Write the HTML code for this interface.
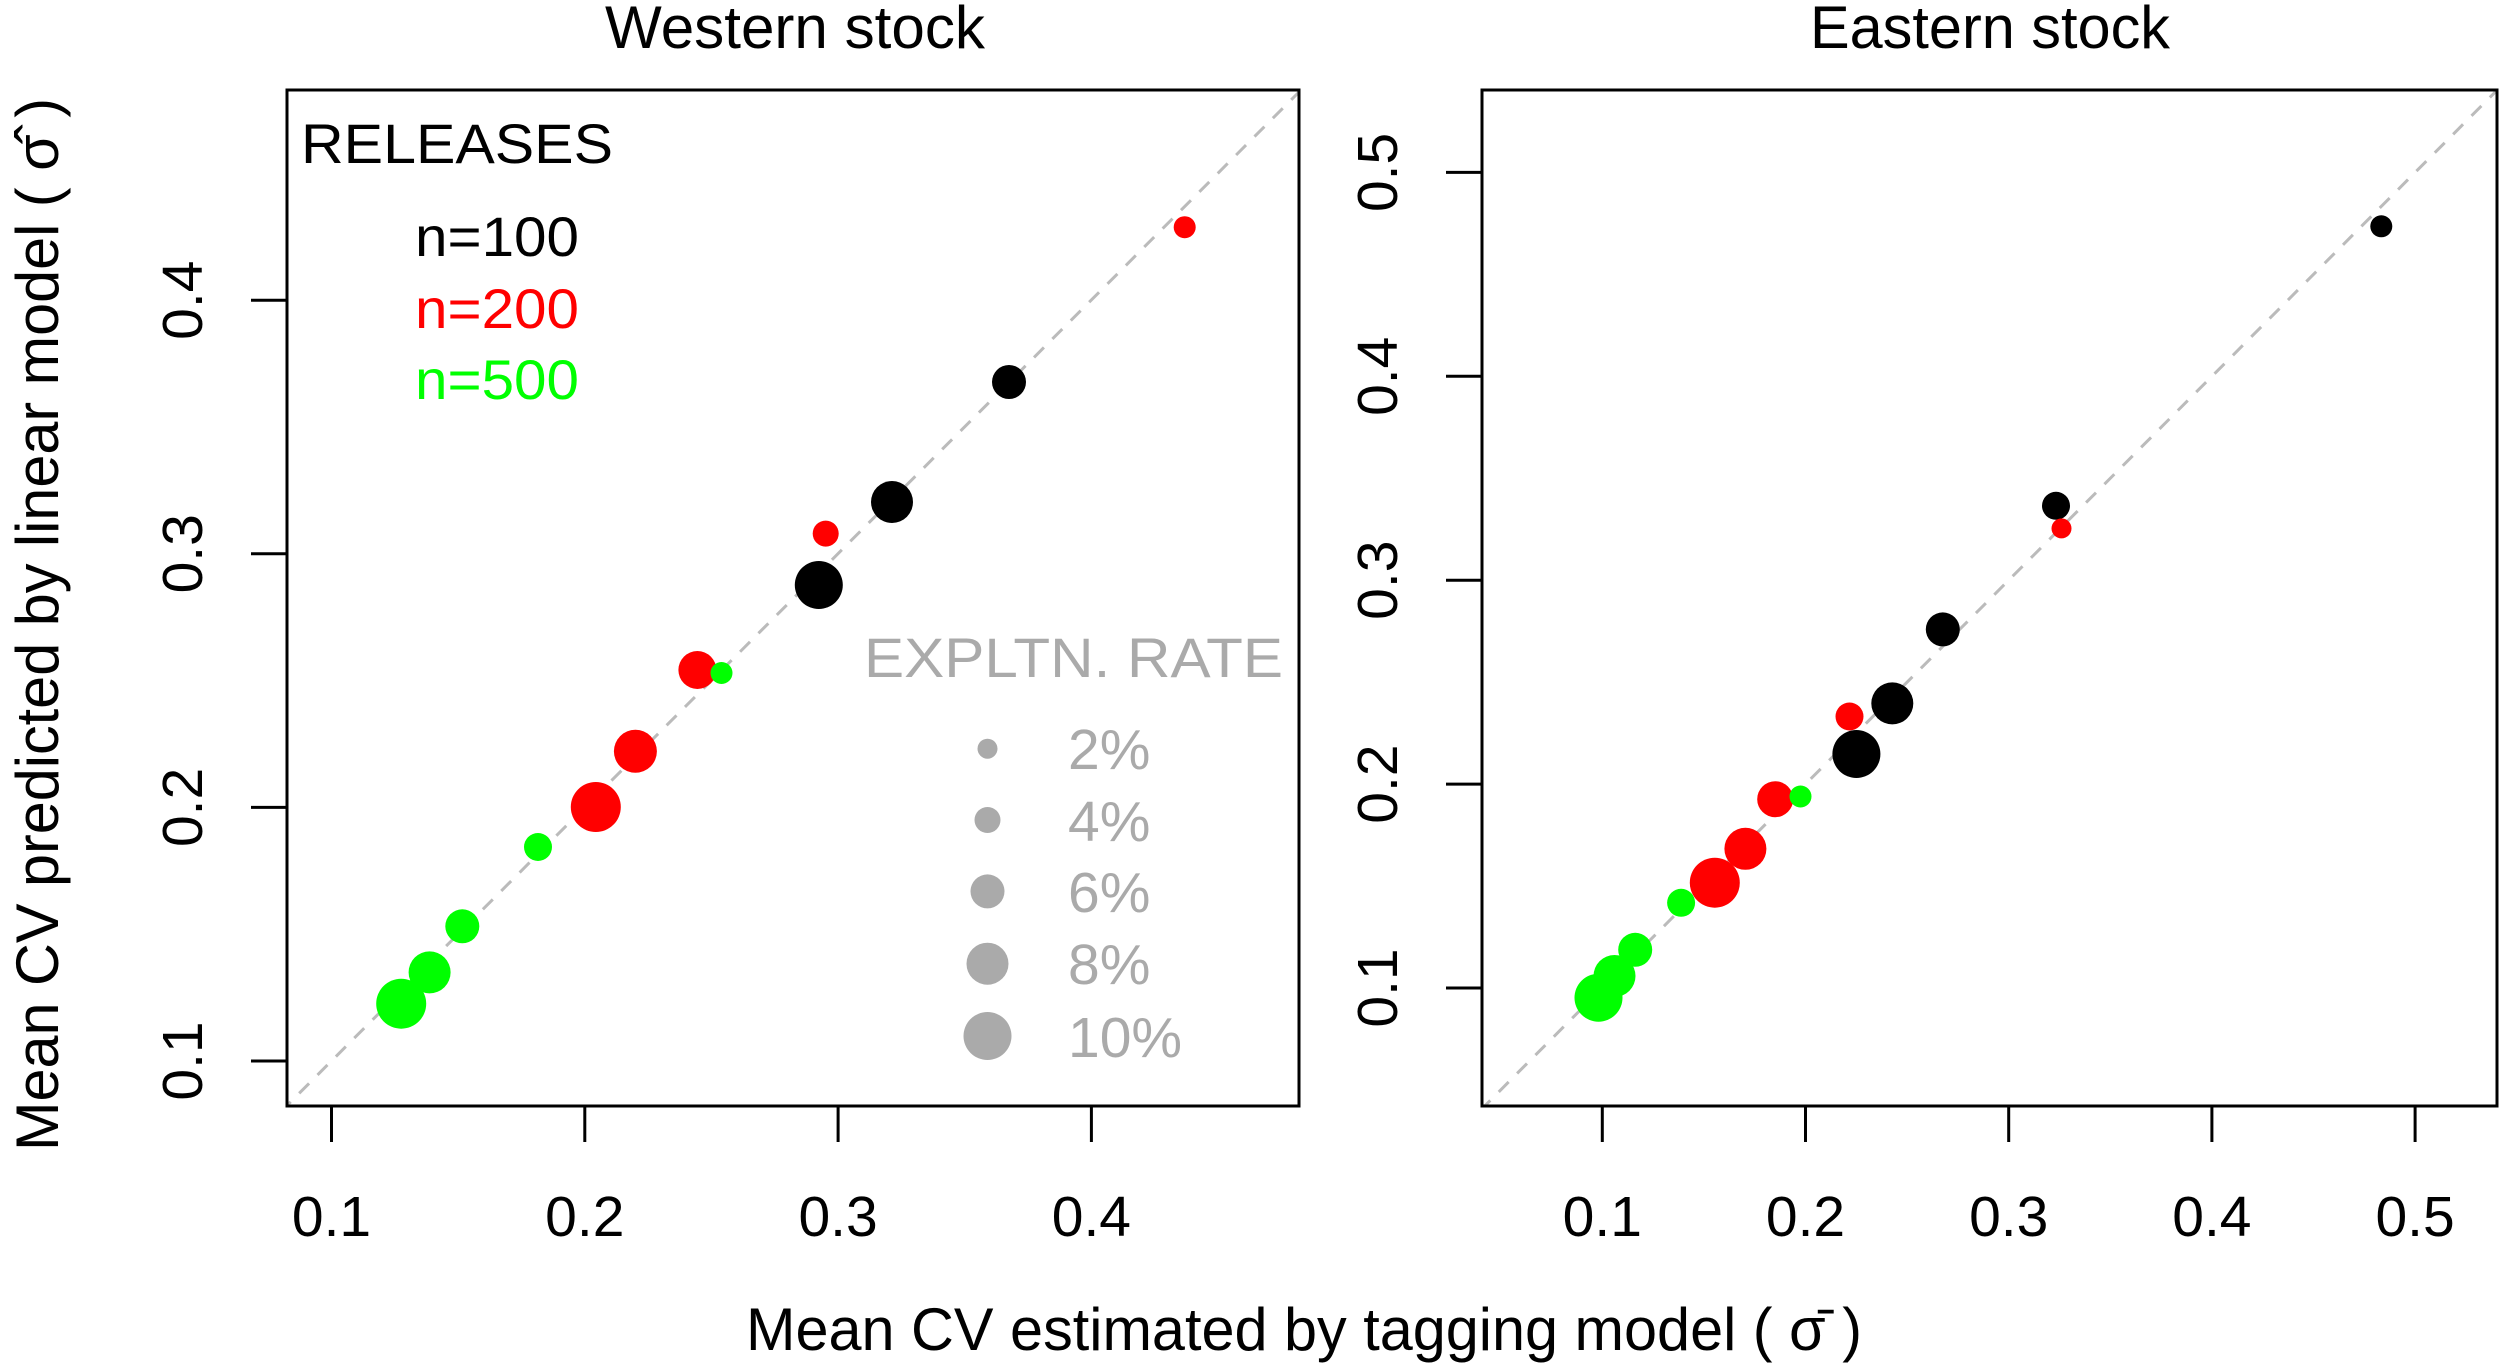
<!DOCTYPE html>
<html><head><meta charset="utf-8"><style>html,body{margin:0;padding:0;background:#fff}svg{display:block}</style></head>
<body>
<svg width="2500" height="1365" viewBox="0 0 2500 1365" xmlns="http://www.w3.org/2000/svg" font-family="Liberation Sans, Arial, sans-serif">
<defs>
<clipPath id="cl"><rect x="287" y="90" width="1012" height="1016"/></clipPath>
<clipPath id="cr"><rect x="1482" y="90" width="1015" height="1016"/></clipPath>
</defs>
<rect width="2500" height="1365" fill="#fff"/>
<!-- titles -->
<text x="795" y="48" font-size="60" text-anchor="middle" textLength="380" lengthAdjust="spacingAndGlyphs">Western stock</text>
<text x="1990" y="48" font-size="60" text-anchor="middle" textLength="360" lengthAdjust="spacingAndGlyphs">Eastern stock</text>
<text x="1304" y="1350" font-size="60" text-anchor="middle" textLength="1116" lengthAdjust="spacingAndGlyphs">Mean CV estimated by tagging model ( σ̄ )</text>
<text transform="translate(58,624.5) rotate(-90)" font-size="60" text-anchor="middle" textLength="1053" lengthAdjust="spacingAndGlyphs">Mean CV predicted by linear model ( σ̂ )</text>

<!-- left panel -->
<line x1="280.8" y1="1111.7" x2="1319" y2="72" stroke="#bbb" stroke-width="3" stroke-dasharray="14,12" clip-path="url(#cl)"/>
<g clip-path="url(#cl)">
<circle cx="1184.7" cy="227.2" r="11" fill="#f00"/>
<circle cx="1009" cy="382" r="17" fill="#000"/>
<circle cx="892" cy="502" r="21" fill="#000"/>
<circle cx="825.7" cy="533.6" r="13" fill="#f00"/>
<circle cx="818.8" cy="585" r="24" fill="#000"/>
<circle cx="697.4" cy="670" r="19" fill="#f00"/>
<circle cx="721.5" cy="673" r="11" fill="#0f0"/>
<circle cx="635.4" cy="751.3" r="21.5" fill="#f00"/>
<circle cx="595.8" cy="807" r="25" fill="#f00"/>
<circle cx="538" cy="847" r="14" fill="#0f0"/>
<circle cx="462.3" cy="926.3" r="17" fill="#0f0"/>
<circle cx="429.6" cy="972.4" r="21" fill="#0f0"/>
<circle cx="401.2" cy="1003.7" r="25" fill="#0f0"/>
</g>
<rect x="287" y="90" width="1012" height="1016" fill="none" stroke="#000" stroke-width="3"/>
<g stroke="#000" stroke-width="3">
<line x1="331.5" y1="1106" x2="331.5" y2="1142"/><line x1="584.8" y1="1106" x2="584.8" y2="1142"/><line x1="838.1" y1="1106" x2="838.1" y2="1142"/><line x1="1091.4" y1="1106" x2="1091.4" y2="1142"/>
<line x1="287" y1="1061" x2="251" y2="1061"/><line x1="287" y1="807.4" x2="251" y2="807.4"/><line x1="287" y1="553.8" x2="251" y2="553.8"/><line x1="287" y1="300.2" x2="251" y2="300.2"/>
</g>
<g font-size="57" text-anchor="middle">
<text x="331.5" y="1236">0.1</text><text x="584.8" y="1236">0.2</text><text x="838.1" y="1236">0.3</text><text x="1091.4" y="1236">0.4</text>
<text transform="translate(202,1061) rotate(-90)">0.1</text><text transform="translate(202,807.4) rotate(-90)">0.2</text><text transform="translate(202,553.8) rotate(-90)">0.3</text><text transform="translate(202,300.2) rotate(-90)">0.4</text>
</g>
<!-- legend -->
<text x="301" y="163" font-size="56" textLength="312" lengthAdjust="spacingAndGlyphs">RELEASES</text>
<text x="415" y="256" font-size="56" textLength="164" lengthAdjust="spacingAndGlyphs">n=100</text>
<text x="415" y="328" font-size="56" fill="#f00" textLength="164" lengthAdjust="spacingAndGlyphs">n=200</text>
<text x="415" y="399" font-size="56" fill="#0f0" textLength="164" lengthAdjust="spacingAndGlyphs">n=500</text>
<text x="864" y="677" font-size="56" fill="#aaa" textLength="419" lengthAdjust="spacingAndGlyphs">EXPLTN. RATE</text>
<g fill="#aaa">
<circle cx="987.5" cy="748.7" r="10"/><circle cx="987.5" cy="820" r="13"/><circle cx="987.5" cy="891.4" r="17"/><circle cx="987.5" cy="963.7" r="21"/><circle cx="987.5" cy="1036" r="24"/>
</g>
<g font-size="57" fill="#aaa">
<text x="1068" y="769">2%</text><text x="1068" y="841">4%</text><text x="1068" y="912">6%</text><text x="1068" y="984">8%</text><text x="1068" y="1057">10%</text>
</g>

<!-- right panel -->
<line x1="1480.4" y1="1110.3" x2="2516.7" y2="70.5" stroke="#bbb" stroke-width="3" stroke-dasharray="14,12" clip-path="url(#cr)"/>
<g clip-path="url(#cr)">
<circle cx="2381.3" cy="226.3" r="11" fill="#000"/>
<circle cx="2056" cy="505.8" r="14" fill="#000"/>
<circle cx="2061.5" cy="528.4" r="10" fill="#f00"/>
<circle cx="1942.8" cy="629.4" r="17" fill="#000"/>
<circle cx="1892.3" cy="703.4" r="21" fill="#000"/>
<circle cx="1849.5" cy="716.5" r="14" fill="#f00"/>
<circle cx="1856.4" cy="754" r="24" fill="#000"/>
<circle cx="1775.2" cy="799.2" r="18" fill="#f00"/>
<circle cx="1800.5" cy="796.5" r="11" fill="#0f0"/>
<circle cx="1745.4" cy="848.8" r="21" fill="#f00"/>
<circle cx="1714.8" cy="882.7" r="25" fill="#f00"/>
<circle cx="1681.1" cy="902.8" r="14" fill="#0f0"/>
<circle cx="1635.2" cy="949.8" r="17" fill="#0f0"/>
<circle cx="1614.5" cy="976" r="21" fill="#0f0"/>
<circle cx="1598.5" cy="997.7" r="24" fill="#0f0"/>
</g>
<rect x="1482" y="90" width="1015" height="1016" fill="none" stroke="#000" stroke-width="3"/>
<g stroke="#000" stroke-width="3">
<line x1="1602.3" y1="1106" x2="1602.3" y2="1142"/><line x1="1805.5" y1="1106" x2="1805.5" y2="1142"/><line x1="2008.7" y1="1106" x2="2008.7" y2="1142"/><line x1="2211.9" y1="1106" x2="2211.9" y2="1142"/><line x1="2415.1" y1="1106" x2="2415.1" y2="1142"/>
<line x1="1482" y1="988" x2="1446" y2="988"/><line x1="1482" y1="784.1" x2="1446" y2="784.1"/><line x1="1482" y1="580.2" x2="1446" y2="580.2"/><line x1="1482" y1="376.3" x2="1446" y2="376.3"/><line x1="1482" y1="172.4" x2="1446" y2="172.4"/>
</g>
<g font-size="57" text-anchor="middle">
<text x="1602.3" y="1236">0.1</text><text x="1805.5" y="1236">0.2</text><text x="2008.7" y="1236">0.3</text><text x="2211.9" y="1236">0.4</text><text x="2415.1" y="1236">0.5</text>
<text transform="translate(1397,988) rotate(-90)">0.1</text><text transform="translate(1397,784.1) rotate(-90)">0.2</text><text transform="translate(1397,580.2) rotate(-90)">0.3</text><text transform="translate(1397,376.3) rotate(-90)">0.4</text><text transform="translate(1397,172.4) rotate(-90)">0.5</text>
</g>
</svg>
</body></html>
